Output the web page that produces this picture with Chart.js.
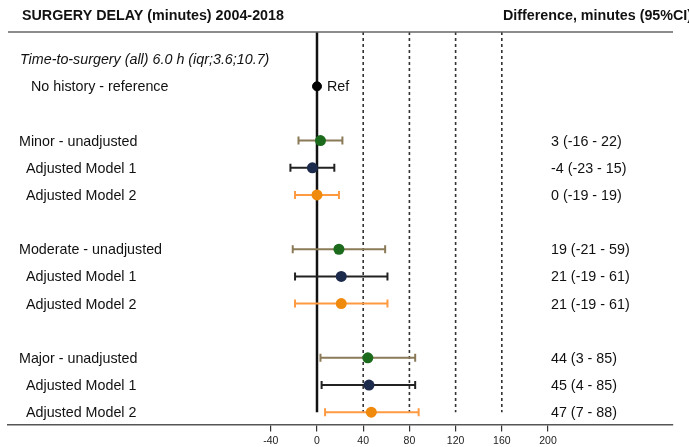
<!DOCTYPE html>
<html>
<head>
<meta charset="utf-8">
<script src="https://cdn.jsdelivr.net/npm/chart.js@4"></script>
<style>
  html, body { margin: 0; padding: 0; background: #fff; }
  #wrap { width: 689px; height: 447px; }
</style>
</head>
<body>
<div id="wrap"><canvas id="forest" width="689" height="447"></canvas></div>
<script>
// groups and models
const groups = ['Minor', 'Moderate', 'Major'];
const modelNames = ['unadjusted', 'Adjusted Model 1', 'Adjusted Model 2'];

// difference in minutes (estimate, lower and upper 95% CI) per group
const unadjEst = [3, 19, 44];
const unadjLow = [-16, -21, 3];
const unadjHigh = [22, 59, 85];
const model1Est = [-4, 21, 45];
const model1Low = [-23, -19, 4];
const model1High = [15, 61, 85];
const model2Est = [0, 21, 47];
const model2Low = [-19, -19, 7];
const model2High = [19, 61, 88];

const refValue = 0;
const tickValues = [-40, 0, 40, 80, 120, 160, 200];
const dashedLines = [40, 80, 120, 160];

const FONT = '"Liberation Sans", Arial, sans-serif';
const firstGroupRow = 3;
const rowsPerGroup = 4;
const lastRow = 13;

const models = [
    { est: unadjEst, low: unadjLow, high: unadjHigh, dot: '#1c6b1c', bar: '#8a7a58' },
    { est: model1Est, low: model1Low, high: model1High, dot: '#1c2a4c', bar: '#222222' },
    { est: model2Est, low: model2Low, high: model2High, dot: '#f08a0c', bar: '#ff9a40' }
];

function rowOf(g, m) { return firstGroupRow + g * rowsPerGroup + m; }

const datasets = [];

// zero line + dashed reference lines
datasets.push({
    data: [{ x: refValue, y: -1 }, { x: refValue, y: lastRow }],
    showLine: true, borderColor: '#111', borderWidth: 2.5, pointRadius: 0, order: 30
});
dashedLines.forEach(v => {
    datasets.push({
        data: [{ x: v, y: -1 }, { x: v, y: lastRow }],
        showLine: true, borderColor: '#333', borderWidth: 1.6, borderDash: [3, 3],
        pointRadius: 0, order: 30
    });
});

// error bars with caps
models.forEach((m, mi) => {
    groups.forEach((g, gi) => {
        const r = rowOf(gi, mi);
        datasets.push({
            data: [{ x: m.low[gi], y: r }, { x: m.high[gi], y: r }],
            showLine: true, borderColor: m.bar, borderWidth: 2,
            pointStyle: 'line', pointRotation: 90, pointRadius: 4,
            pointBorderColor: m.bar, pointBorderWidth: 2, order: 20
        });
    });
});

// estimate dots
models.forEach((m, mi) => {
    datasets.push({
        data: groups.map((g, gi) => ({ x: m.est[gi], y: rowOf(gi, mi) })),
        pointRadius: 5.5, backgroundColor: m.dot, borderColor: m.dot, borderWidth: 0, order: 0
    });
});

// reference dot
datasets.push({
    data: [{ x: refValue, y: 1 }],
    pointRadius: 4.5, backgroundColor: '#000', borderColor: '#000', order: 0
});

const textPlugin = {
    id: 'forestText',
    afterDraw(chart) {
        const ctx = chart.ctx;
        const y = chart.scales.y;
        const area = chart.chartArea;
        const rowY = r => y.getPixelForValue(r) + 1;
        ctx.save();

        // top rule
        ctx.strokeStyle = '#666';
        ctx.lineWidth = 1.5;
        ctx.beginPath();
        ctx.moveTo(area.left, area.top);
        ctx.lineTo(area.right, area.top);
        ctx.stroke();

        ctx.fillStyle = '#111';
        ctx.textBaseline = 'middle';
        ctx.font = 'bold 14.3px ' + FONT;
        ctx.fillText('SURGERY DELAY (minutes) 2004-2018', 22, 16);
        ctx.fillText('Difference, minutes (95%CI)', 503, 16);

        ctx.font = 'italic 14.3px ' + FONT;
        ctx.fillText('Time-to-surgery (all) 6.0 h (iqr;3.6;10.7)', 20, rowY(0));
        ctx.font = '14.3px ' + FONT;
        ctx.fillText('No history - reference', 31, rowY(1));
        ctx.fillText('Ref', chart.scales.x.getPixelForValue(refValue) + 10, rowY(1));

        groups.forEach((g, gi) => {
            models.forEach((m, mi) => {
                const py = rowY(rowOf(gi, mi));
                const label = mi === 0 ? g + ' - ' + modelNames[0] : modelNames[mi];
                ctx.fillText(label, mi === 0 ? 19 : 26, py);
                ctx.fillText(m.est[gi] + ' (' + m.low[gi] + ' - ' + m.high[gi] + ')', 551, py);
            });
        });
        ctx.restore();
    }
};

new Chart(document.getElementById('forest'), {
    type: 'scatter',
    data: { datasets },
    options: {
        responsive: false,
        animation: false,
        devicePixelRatio: 1,
        layout: { padding: { left: 8, right: 16, top: 32, bottom: -3 } },
        plugins: { legend: { display: false }, tooltip: { enabled: false } },
        scales: {
            x: {
                type: 'linear',
                min: -267.5,
                max: 308.2,
                afterBuildTicks: s => { s.ticks = tickValues.map(v => ({ value: v })); },
                grid: { drawOnChartArea: false, drawTicks: true, tickLength: 7, color: '#333', lineWidth: 1.2 },
                border: { display: true, color: '#555', width: 1.5 },
                ticks: { font: { size: 10.5, family: FONT }, color: '#222', padding: 3, maxRotation: 0, autoSkip: false }
            },
            y: { type: 'linear', display: false, reverse: true, min: -1, max: 13.45 }
        }
    },
    plugins: [textPlugin]
});
</script>
</body>
</html>
